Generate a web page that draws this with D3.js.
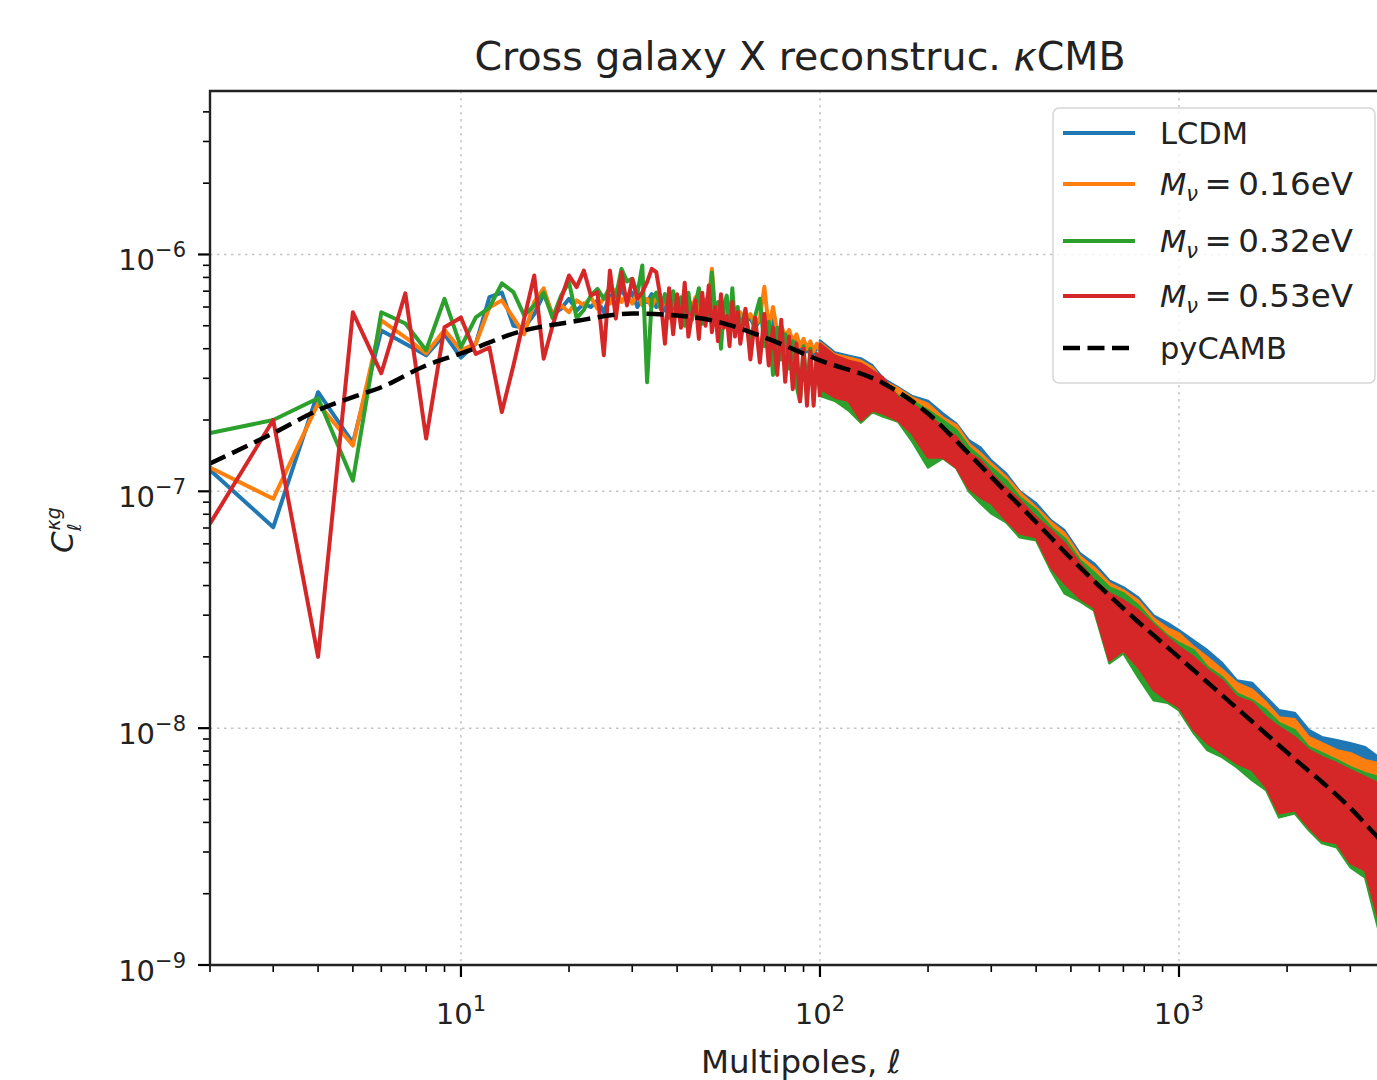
<!DOCTYPE html>
<html lang="en">
<head>
<meta charset="UTF-8">
<title>Cross galaxy X reconstruc. κCMB</title>
<script src="https://cdn.jsdelivr.net/npm/d3@7"></script>
<style>
    body { margin: 0; background: #fff; }
    svg { display: block; font-family: "DejaVu Sans", sans-serif; }
</style>
</head>
<body>
<svg width="1377" height="1080"></svg>
<script>
    // multipoles plotted one by one (low ell)
    var ellLow = [2, 3, 4, 5, 6, 7, 8, 9, 10, 11, 12,
        13, 14, 15, 16, 17, 18, 19, 20, 21, 22, 23, 24,
        25, 26, 27, 28, 29, 30, 31, 32, 33, 34, 35, 36,
        37, 38, 39, 40, 41, 42, 43, 44, 45, 46, 47, 48,
        49, 50, 51, 52, 53, 54, 55, 56, 57, 58, 59, 60,
        62, 64, 66, 68, 70, 72, 74, 76, 78, 80, 82, 84, 86, 88, 90, 92, 94, 96, 98, 100];

    var lcdmLow = [1.23e-7, 7.05e-8, 2.62e-7, 1.6e-7, 4.78e-7, 4.2e-7, 3.75e-7, 4.6e-7, 3.67e-7, 4.2e-7, 6.6e-7,
        6.9e-7, 5.0e-7, 4.9e-7, 5.6e-7, 6.8e-7, 5.6e-7, 5.9e-7, 6.5e-7, 5.8e-7, 6.2e-7, 6.0e-7, 6.4e-7,
        5.7e-7, 6.7e-7, 6.1e-7, 7.2e-7, 6.4e-7, 6.9e-7, 6.0e-7, 6.6e-7, 6.3e-7, 6.8e-7, 6.0e-7, 6.5e-7,
        5.8e-7, 6.7e-7, 5.9e-7, 6.4e-7, 5.7e-7, 6.6e-7, 5.6e-7, 6.2e-7, 5.8e-7, 6.5e-7, 5.4e-7, 6.1e-7,
        6.9e-7, 7.4e-7, 5.6e-7, 6.0e-7, 5.1e-7, 5.9e-7, 5.5e-7, 6.0e-7, 5.3e-7, 5.7e-7, 5.0e-7, 5.5e-7,
        5.2e-7, 5.4e-7, 4.9e-7, 5.3e-7, 5.6e-7, 4.8e-7, 5.3e-7, 4.6e-7, 4.9e-7, 4.4e-7, 4.7e-7, 4.2e-7, 4.5e-7, 4.0e-7, 4.3e-7, 3.9e-7, 4.2e-7, 3.8e-7, 4.1e-7, 3.9e-7];

    var m016Low = [1.26e-7, 9.3e-8, 2.35e-7, 1.56e-7, 5.27e-7, 4.47e-7, 3.82e-7, 4.8e-7, 3.94e-7, 4.2e-7, 5.97e-7,
        6.4e-7, 5.4e-7, 4.6e-7, 6.3e-7, 7.2e-7, 5.5e-7, 6.1e-7, 5.7e-7, 6.4e-7, 6.1e-7, 6.6e-7, 5.9e-7,
        6.6e-7, 6.2e-7, 7.1e-7, 6.3e-7, 6.8e-7, 6.2e-7, 6.9e-7, 6.1e-7, 6.5e-7, 6.0e-7, 6.7e-7, 5.9e-7,
        6.4e-7, 6.1e-7, 6.6e-7, 5.8e-7, 6.4e-7, 5.7e-7, 6.3e-7, 5.9e-7, 6.6e-7, 5.6e-7, 6.1e-7, 5.8e-7,
        6.4e-7, 8.7e-7, 5.7e-7, 6.2e-7, 5.3e-7, 5.9e-7, 5.6e-7, 6.1e-7, 5.2e-7, 5.8e-7, 5.4e-7, 5.7e-7,
        5.3e-7, 5.6e-7, 5.0e-7, 5.4e-7, 7.3e-7, 4.9e-7, 6.0e-7, 4.7e-7, 5.0e-7, 4.5e-7, 4.8e-7, 4.3e-7, 4.6e-7, 4.1e-7, 4.4e-7, 4.0e-7, 4.3e-7, 3.9e-7, 4.2e-7, 3.9e-7];

    var m032Low = [1.76e-7, 2.0e-7, 2.47e-7, 1.11e-7, 5.7e-7, 5.11e-7, 3.94e-7, 6.5e-7, 4.06e-7, 5.42e-7, 5.97e-7,
        7.55e-7, 6.93e-7, 5.53e-7, 6.09e-7, 6.9e-7, 5.39e-7, 6.7e-7, 7.64e-7, 5.39e-7, 5.83e-7, 6.71e-7, 7.16e-7,
        6.5e-7, 7.3e-7, 6.6e-7, 8.7e-7, 7.7e-7, 7.9e-7, 6.8e-7, 8.99e-7, 2.89e-7, 6.5e-7, 6.9e-7, 5.9e-7,
        6.8e-7, 5.4e-7, 7.0e-7, 5.6e-7, 6.6e-7, 5.0e-7, 6.9e-7, 5.3e-7, 6.2e-7, 7.2e-7, 5.1e-7, 6.4e-7,
        5.5e-7, 8.4e-7, 5.6e-7, 6.3e-7, 4.0e-7, 6.1e-7, 6.7e-7, 4.8e-7, 7.2e-7, 5.0e-7, 6.0e-7, 4.6e-7,
        5.8e-7, 4.2e-7, 5.5e-7, 6.5e-7, 4.1e-7, 5.2e-7, 3.1e-7, 4.9e-7, 3.6e-7, 4.6e-7, 3.3e-7, 4.3e-7, 2.8e-7, 2.4e-7, 4.1e-7, 2.6e-7, 4.0e-7, 2.5e-7, 3.7e-7, 2.7e-7];

    var m053Low = [7.3e-8, 2.0e-7, 2.0e-8, 5.7e-7, 3.15e-7, 6.85e-7, 1.67e-7, 4.93e-7, 5.42e-7, 3.8e-7, 4.05e-7,
        2.16e-7, 3.4e-7, 5.36e-7, 8.15e-7, 3.63e-7, 5.01e-7, 6.5e-7, 8.15e-7, 7.28e-7, 8.56e-7, 6.71e-7, 6.93e-7,
        3.75e-7, 8.56e-7, 5.36e-7, 8.42e-7, 6.09e-7, 7.89e-7, 6.5e-7, 6.93e-7, 7.64e-7, 8.7e-7, 8.42e-7, 6.5e-7,
        4.2e-7, 7.2e-7, 4.6e-7, 6.8e-7, 4.9e-7, 7.6e-7, 4.5e-7, 5.6e-7, 6.4e-7, 4.4e-7, 6.9e-7, 5.0e-7,
        7.4e-7, 4.7e-7, 6.0e-7, 4.3e-7, 6.8e-7, 4.9e-7, 5.5e-7, 4.1e-7, 6.3e-7, 4.5e-7, 5.7e-7, 4.2e-7,
        5.9e-7, 3.6e-7, 5.4e-7, 3.5e-7, 5.6e-7, 3.4e-7, 4.9e-7, 3.1e-7, 5.3e-7, 2.9e-7, 4.5e-7, 2.7e-7, 4.2e-7, 2.4e-7, 4.0e-7, 2.3e-7, 3.9e-7, 2.3e-7, 3.8e-7, 2.5e-7];

    // high ell: scatter too dense to split, kept as top / bottom of each band
    var ellHigh = [100, 110, 120, 130, 140, 150, 165, 180, 200, 220, 240, 260, 280, 300, 330, 360, 400, 440, 480, 530, 580,
        640, 700, 770, 850, 930, 1000, 1100, 1200, 1320, 1450, 1600, 1750, 1900, 2100, 2300, 2500, 2750, 3000, 3300, 3600, 4000];

    var lcdmHiTop = [4.33e-7, 3.86e-7, 3.74e-7, 3.64e-7, 3.40e-7, 2.99e-7, 2.75e-7, 2.53e-7, 2.41e-7, 2.13e-7, 1.93e-7, 1.64e-7, 1.53e-7, 1.35e-7, 1.19e-7, 1.00e-7, 8.9e-8, 7.54e-8, 6.84e-8, 5.47e-8, 4.96e-8,
        4.20e-8, 3.93e-8, 3.56e-8, 2.99e-8, 2.78e-8, 2.59e-8, 2.34e-8, 2.13e-8, 1.88e-8, 1.59e-8, 1.55e-8, 1.35e-8, 1.19e-8, 1.16e-8, 9.81e-9, 9.16e-9, 8.90e-9, 8.64e-9, 8.31e-9, 7.54e-9, 7.19e-9];
    var lcdmHiBot = [2.9e-7, 2.7e-7, 2.6e-7, 2.3e-7, 2.4e-7, 2.3e-7, 2.1e-7, 1.9e-7, 1.55e-7, 1.5e-7, 1.35e-7, 1.12e-7, 1.02e-7, 9.6e-8, 8.2e-8, 7.3e-8, 6.9e-8, 5.3e-8, 4.5e-8, 3.9e-8, 3.5e-8,
        2.3e-8, 2.35e-8, 2.0e-8, 1.6e-8, 1.45e-8, 1.35e-8, 1.1e-8, 9.5e-9, 8.6e-9, 7.8e-9, 7.3e-9, 6.2e-9, 5.0e-9, 5.0e-9, 4.2e-9, 3.7e-9, 3.6e-9, 3.0e-9, 2.8e-9, 2.0e-9, 1.9e-9];

    var m016HiTop = [4.25e-7, 3.78e-7, 3.67e-7, 3.56e-7, 3.33e-7, 2.93e-7, 2.72e-7, 2.49e-7, 2.34e-7, 2.05e-7, 1.90e-7, 1.59e-7, 1.45e-7, 1.31e-7, 1.15e-7, 9.9e-8, 8.55e-8, 7.4e-8, 6.65e-8, 5.31e-8, 4.77e-8,
        4.09e-8, 3.82e-8, 3.46e-8, 2.90e-8, 2.64e-8, 2.51e-8, 2.20e-8, 1.99e-8, 1.76e-8, 1.55e-8, 1.45e-8, 1.28e-8, 1.11e-8, 1.09e-8, 9.16e-9, 8.64e-9, 8.07e-9, 7.84e-9, 7.33e-9, 7.11e-9, 6.78e-9];
    var m016HiBot = [2.85e-7, 2.65e-7, 2.55e-7, 2.25e-7, 2.35e-7, 2.25e-7, 2.1e-7, 1.85e-7, 1.5e-7, 1.48e-7, 1.33e-7, 1.1e-7, 1.0e-7, 9.4e-8, 8.0e-8, 7.1e-8, 6.8e-8, 5.2e-8, 4.4e-8, 3.8e-8, 3.4e-8,
        2.2e-8, 2.3e-8, 1.95e-8, 1.55e-8, 1.4e-8, 1.3e-8, 1.05e-8, 9.2e-9, 8.3e-9, 7.6e-9, 7.1e-9, 6.0e-9, 4.8e-9, 4.9e-9, 4.1e-9, 3.6e-9, 3.5e-9, 2.9e-9, 2.7e-9, 1.8e-9, 1.7e-9];

    var m032HiTop = [4.13e-7, 3.71e-7, 3.50e-7, 3.40e-7, 3.17e-7, 2.85e-7, 2.53e-7, 2.41e-7, 2.20e-7, 1.99e-7, 1.81e-7, 1.53e-7, 1.39e-7, 1.26e-7, 1.11e-7, 9.43e-8, 8.31e-8, 7.04e-8, 6.33e-8, 5.11e-8, 4.54e-8,
        3.93e-8, 3.71e-8, 3.30e-8, 2.78e-8, 2.46e-8, 2.29e-8, 2.13e-8, 1.81e-8, 1.64e-8, 1.40e-8, 1.31e-8, 1.19e-8, 1.05e-8, 9.81e-9, 8.31e-9, 7.84e-9, 7.33e-9, 6.84e-9, 6.45e-9, 6.21e-9, 5.92e-9];
    var m032HiBot = [2.53e-7, 2.41e-7, 2.20e-7, 1.95e-7, 2.16e-7, 2.07e-7, 1.97e-7, 1.64e-7, 1.26e-7, 1.38e-7, 1.25e-7, 1.00e-7, 8.9e-8, 8.07e-8, 7.4e-8, 6.39e-8, 6.21e-8, 4.63e-8, 3.71e-8, 3.43e-8, 3.14e-8,
        1.88e-8, 2.07e-8, 1.64e-8, 1.31e-8, 1.28e-8, 1.19e-8, 9.52e-9, 8.07e-9, 7.54e-9, 6.84e-9, 6.03e-9, 5.47e-9, 4.20e-9, 4.37e-9, 3.71e-9, 3.27e-9, 3.14e-9, 2.59e-9, 2.34e-9, 1.40e-9, 1.35e-9];

    var m053HiTop = [4.20e-7, 3.74e-7, 3.56e-7, 3.46e-7, 3.23e-7, 3.02e-7, 2.49e-7, 2.34e-7, 2.09e-7, 1.86e-7, 1.69e-7, 1.45e-7, 1.35e-7, 1.19e-7, 1.03e-7, 9.16e-8, 7.76e-8, 6.84e-8, 6.03e-8, 4.96e-8, 4.20e-8,
        3.71e-8, 3.46e-8, 3.14e-8, 2.72e-8, 2.41e-8, 2.20e-8, 1.99e-8, 1.76e-8, 1.59e-8, 1.35e-8, 1.28e-8, 1.11e-8, 1.01e-8, 9.16e-9, 8.07e-9, 7.54e-9, 7.11e-9, 6.65e-9, 6.21e-9, 5.85e-9, 5.47e-9];
    var m053HiBot = [2.72e-7, 2.49e-7, 2.41e-7, 1.99e-7, 2.20e-7, 2.13e-7, 1.99e-7, 1.76e-7, 1.39e-7, 1.39e-7, 1.26e-7, 1.03e-7, 9.43e-8, 8.9e-8, 7.54e-8, 6.65e-8, 6.39e-8, 4.77e-8, 4.09e-8, 3.53e-8, 3.23e-8,
        1.93e-8, 2.13e-8, 1.81e-8, 1.45e-8, 1.31e-8, 1.23e-8, 9.81e-9, 8.64e-9, 7.84e-9, 7.11e-9, 6.65e-9, 5.63e-9, 4.37e-9, 4.50e-9, 3.82e-9, 3.36e-9, 3.27e-9, 2.69e-9, 2.51e-9, 1.55e-9, 1.48e-9];

    // pyCAMB theory
    var ellCamb = [2, 3, 4, 5, 6, 8, 10, 15, 20, 30, 40, 50, 70, 100, 150, 200, 250, 300, 400, 500, 700, 1000, 1500, 2000, 3000, 3600, 4000];
    var clCamb = [1.31e-7, 1.76e-7, 2.2e-7, 2.5e-7, 2.75e-7, 3.4e-7, 3.82e-7, 4.78e-7, 5.17e-7, 5.63e-7, 5.53e-7, 5.27e-7, 4.47e-7, 3.57e-7, 2.86e-7, 2.13e-7, 1.53e-7, 1.15e-7,
        7.4e-8, 5.21e-8, 3.2e-8, 1.99e-8, 1.16e-8, 7.9e-9, 4.6e-9, 3.43e-9, 2.9e-9];

    var seriesNames = ["LCDM", "0.16eV", "0.32eV", "0.53eV"];
    var seriesColors = ["#1f77b4", "#ff7f0e", "#2ca02c", "#d62728"];
    var lowData = [lcdmLow, m016Low, m032Low, m053Low];
    var hiTop = [lcdmHiTop, m016HiTop, m032HiTop, m053HiTop];
    var hiBot = [lcdmHiBot, m016HiBot, m032HiBot, m053HiBot];

    var svg = d3.select("svg");
    svg.append("rect").attr("width", 1377).attr("height", 1080).attr("fill", "#fff");

    var pL = 210, pT = 91, pR = 1390, pB = 965;
    var x = d3.scaleLog().domain([2, 3870]).range([pL, pR]);
    var y = d3.scaleLog().domain([1e-9, 4.9e-6]).range([pB, pT]);

    function isMajor(v) {
        var l = Math.log10(v);
        return Math.abs(l - Math.round(l)) < 1e-9;
    }

    // grid
    var grid = svg.append("g").attr("class", "grid")
        .attr("stroke", "#c4c4c4").attr("stroke-width", 1.5).attr("stroke-dasharray", "2.5,4.5");
    grid.selectAll(".gx").data(x.ticks().filter(isMajor)).enter().append("line")
        .attr("x1", function (d) { return x(d); }).attr("x2", function (d) { return x(d); })
        .attr("y1", pT).attr("y2", pB);
    grid.selectAll(".gy").data(y.ticks().filter(isMajor)).enter().append("line")
        .attr("y1", function (d) { return y(d); }).attr("y2", function (d) { return y(d); })
        .attr("x1", pL).attr("x2", pR);

    svg.append("clipPath").attr("id", "plotclip").append("rect")
        .attr("x", pL).attr("y", pT).attr("width", pR - pL).attr("height", pB - pT);
    var plot = svg.append("g").attr("clip-path", "url(#plotclip)");

    var line = d3.line()
        .x(function (d) { return x(d[0]); })
        .y(function (d) { return y(d[1]); });

    var band = d3.area()
        .x(function (d) { return x(d[0]); })
        .y0(function (d) { return y(d[1]); })
        .y1(function (d) { return y(d[2]); });

    seriesColors.forEach(function (c, i) {
        var low = ellLow.map(function (l, j) { return [l, lowData[i][j]]; });
        var hi = ellHigh.map(function (l, j) { return [l, hiBot[i][j], hiTop[i][j]]; });
        plot.append("path")
            .attr("d", band(hi))
            .attr("fill", c)
            .attr("stroke", c)
            .attr("stroke-width", 2.5)
            .attr("stroke-linejoin", "round");
        plot.append("path")
            .attr("d", line(low))
            .attr("fill", "none")
            .attr("stroke", c)
            .attr("stroke-width", 4)
            .attr("stroke-linejoin", "round");
    });

    plot.append("path")
        .attr("d", line.curve(d3.curveMonotoneX)(ellCamb.map(function (l, j) { return [l, clCamb[j]]; })))
        .attr("fill", "none")
        .attr("stroke", "#000")
        .attr("stroke-width", 4.5)
        .attr("stroke-dasharray", "17,7.5");

    // axes
    var xMinor = x.ticks().filter(function (d) { return !isMajor(d); });
    var xMajor = x.ticks().filter(isMajor);
    var yMinor = y.ticks().filter(function (d) { return !isMajor(d); });
    var yMajor = y.ticks().filter(isMajor);

    var axes = svg.append("g").attr("stroke", "#000");
    axes.selectAll(".xmin").data(xMinor).enter().append("line")
        .attr("x1", function (d) { return x(d); }).attr("x2", function (d) { return x(d); })
        .attr("y1", pB).attr("y2", pB + 7).attr("stroke-width", 1.6);
    axes.selectAll(".xmaj").data(xMajor).enter().append("line")
        .attr("x1", function (d) { return x(d); }).attr("x2", function (d) { return x(d); })
        .attr("y1", pB).attr("y2", pB + 12).attr("stroke-width", 2.2);
    axes.selectAll(".ymin").data(yMinor).enter().append("line")
        .attr("y1", function (d) { return y(d); }).attr("y2", function (d) { return y(d); })
        .attr("x1", pL).attr("x2", pL - 7).attr("stroke-width", 1.6);
    axes.selectAll(".ymaj").data(yMajor).enter().append("line")
        .attr("y1", function (d) { return y(d); }).attr("y2", function (d) { return y(d); })
        .attr("x1", pL).attr("x2", pL - 12).attr("stroke-width", 2.2);

    // spines
    axes.append("path")
        .attr("d", "M" + pR + "," + pT + "H" + pL + "V" + pB + "H" + pR)
        .attr("fill", "none").attr("stroke", "#222").attr("stroke-width", 2.4);

    function powLabel(g, v) {
        var t = g.append("text");
        t.append("tspan").text("10");
        t.append("tspan").attr("dy", -13).attr("font-size", 21).text(d3.format("d")(Math.round(Math.log10(v))).replace("-", "\u2212"));
        return t;
    }

    var labels = svg.append("g").attr("fill", "#222").attr("font-size", 29);
    yMajor.forEach(function (v) {
        powLabel(labels, v).attr("x", 186).attr("y", y(v) + 16).attr("text-anchor", "end");
    });
    xMajor.forEach(function (v) {
        powLabel(labels, v).attr("x", x(v)).attr("y", 1024).attr("text-anchor", "middle");
    });

    svg.append("text")
        .attr("x", 801).attr("y", 1073).attr("text-anchor", "middle")
        .attr("font-size", 32.5).attr("fill", "#222")
        .html('Multipoles, <tspan font-style="italic">ℓ</tspan>');

    // y label C_l^{kg}
    var yl = svg.append("text")
        .attr("transform", "translate(73,553) rotate(-90)")
        .attr("font-size", 31).attr("fill", "#222").attr("font-style", "italic");
    yl.append("tspan").text("C");
    yl.append("tspan").attr("font-size", 19).attr("dy", 8).text("ℓ");
    yl.append("tspan").attr("font-size", 19).attr("dx", -7).attr("dy", -21).text("κg");

    svg.append("text")
        .attr("x", 800).attr("y", 70).attr("text-anchor", "middle")
        .attr("font-size", 39.5).attr("fill", "#222")
        .html('Cross galaxy X reconstruc. <tspan font-style="italic">κ</tspan>CMB');

    // legend
    var legend = svg.append("g");
    legend.append("rect")
        .attr("x", 1053).attr("y", 108).attr("width", 322).attr("height", 275).attr("rx", 6)
        .attr("fill", "#fff").attr("fill-opacity", 0.8)
        .attr("stroke", "#d6d6d6").attr("stroke-width", 1.5);
    var rowY = [133, 184, 241, 296, 348];
    seriesNames.forEach(function (n, i) {
        legend.append("line")
            .attr("x1", 1063).attr("x2", 1135).attr("y1", rowY[i]).attr("y2", rowY[i])
            .attr("stroke", seriesColors[i]).attr("stroke-width", 4);
        var t = legend.append("text").attr("x", 1160).attr("y", rowY[i] + 11)
            .attr("font-size", 30.5).attr("fill", "#222");
        if (i === 0) {
            t.text(n);
        } else {
            t.append("tspan").attr("font-style", "italic").text("M");
            t.append("tspan").attr("font-style", "italic").attr("font-size", 21).attr("dy", 6).text("ν");
            t.append("tspan").attr("dy", -6).attr("font-size", 32.5).text("\u2009=\u20090." + n.slice(2));
        }
    });
    legend.append("line")
        .attr("x1", 1063).attr("x2", 1135).attr("y1", rowY[4]).attr("y2", rowY[4])
        .attr("stroke", "#000").attr("stroke-width", 4.5).attr("stroke-dasharray", "17,7.5");
    legend.append("text").attr("x", 1160).attr("y", rowY[4] + 11)
        .attr("font-size", 30.5).attr("fill", "#222").text("pyCAMB");
</script>
</body>
</html>
